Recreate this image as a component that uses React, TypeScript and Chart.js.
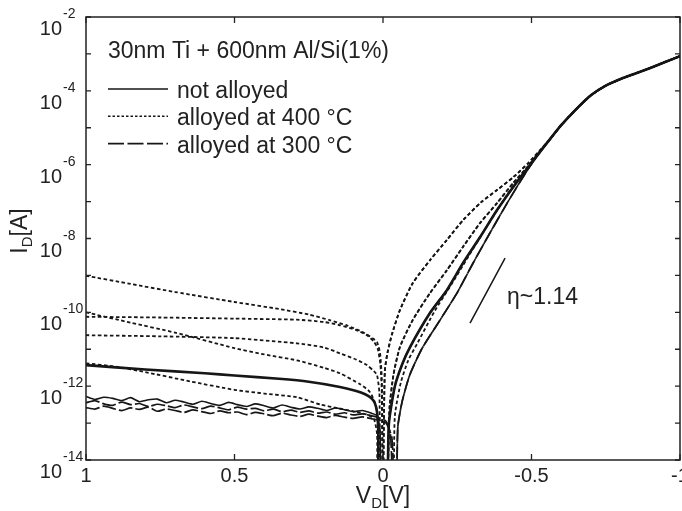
import React, { useEffect, useRef } from "react";
import { Chart, registerables } from "chart.js";

Chart.register(...registerables);

// ---------- axis ticks / labels ----------
const xTickValues = [1, 0.5, 0, -0.5, -1];
const xTickLabels = ["1", "0.5", "0", "-0.5", "-1"];
const yLabelExponents = [-2, -4, -6, -8, -10, -12, -14];
const yTickExponents = [-2, -3, -4, -5, -6, -7, -8, -9, -10, -11, -12, -13, -14];

const legendTitle = "30nm Ti + 600nm Al/Si(1%)";
const legendLabels = ["not alloyed", "alloyed at 400 °C", "alloyed at 300 °C"];
const etaLabel = "η~1.14";
const etaLabelV = -0.4175;
const etaLabelLog = -9.78;

// ---------- data: V_D [V] and log10(|I_D| / A) ----------
// reverse branches (V_D > 0)
const vRevA = [1.0, 0.85, 0.7, 0.5, 0.35, 0.25, 0.18, 0.12, 0.067, 0.035, 0.02, 0.01, 0.004, 0.0];
const logRevA = [-9.01, -9.23, -9.45, -9.72, -9.91, -10.06, -10.21, -10.36, -10.54, -10.7, -10.81, -11.1, -11.8, -15];

const vRevB = [1.0, 0.85, 0.7, 0.5, 0.4, 0.29, 0.2, 0.145, 0.077, 0.045, 0.025, 0.015, 0.011];
const logRevB = [-10.0, -10.28, -10.55, -10.97, -11.14, -11.3, -11.5, -11.65, -11.95, -12.15, -12.5, -13.2, -15];

const vRevC = [1.0, 0.75, 0.5, 0.29, 0.2, 0.145, 0.09, 0.054, 0.03, 0.018, 0.009, 0.004, 0.002];
const logRevC = [-10.12, -10.14, -10.17, -10.2, -10.26, -10.35, -10.48, -10.62, -10.8, -10.98, -11.4, -12.2, -15];

const vRevD = [1.0, 0.75, 0.5, 0.29, 0.2, 0.145, 0.09, 0.054, 0.03, 0.02, 0.012, 0.008];
const logRevD = [-10.62, -10.65, -10.7, -10.84, -10.95, -11.11, -11.28, -11.43, -11.6, -11.7, -12.2, -15];

const vRevE = [1.0, 0.9, 0.8, 0.65, 0.5, 0.4, 0.29, 0.21, 0.15, 0.1, 0.05, 0.03, 0.02, 0.015];
const logRevE = [-11.38, -11.47, -11.62, -11.87, -12.1, -12.2, -12.3, -12.5, -12.6, -12.68, -12.78, -12.9, -13.3, -15];

const vRevS = [1.0, 0.8, 0.6, 0.5, 0.35, 0.25, 0.145, 0.09, 0.06, 0.04, 0.028, 0.02, 0.016, 0.013];
const logRevS = [-11.43, -11.55, -11.65, -11.71, -11.8, -11.88, -12.02, -12.13, -12.22, -12.32, -12.45, -12.7, -13.2, -15];

// noisy low-leakage reverse branches
const vNoise = [1.0, 0.97, 0.94, 0.91, 0.88, 0.85, 0.82, 0.79, 0.76, 0.73, 0.7, 0.67, 0.64, 0.61, 0.58, 0.55, 0.52,
  0.49, 0.46, 0.43, 0.4, 0.37, 0.34, 0.31, 0.28, 0.25, 0.22, 0.19, 0.16, 0.13, 0.1, 0.07, 0.04];
const logNoise1 = [-12.28, -12.36, -12.3, -12.33, -12.39, -12.31, -12.42, -12.37, -12.35, -12.45, -12.38, -12.43,
  -12.49, -12.41, -12.47, -12.52, -12.44, -12.5, -12.55, -12.48, -12.53, -12.59, -12.51, -12.57, -12.62, -12.56,
  -12.6, -12.66, -12.59, -12.64, -12.69, -12.66, -12.73];
const logNoise2 = [-12.45, -12.39, -12.48, -12.52, -12.43, -12.5, -12.47, -12.55, -12.49, -12.53, -12.58, -12.51,
  -12.56, -12.61, -12.54, -12.59, -12.64, -12.57, -12.62, -12.6, -12.67, -12.62, -12.69, -12.65, -12.71, -12.67,
  -12.73, -12.7, -12.76, -12.72, -12.78, -12.75, -12.8];
const logNoise3 = [-12.58, -12.62, -12.54, -12.6, -12.66, -12.59, -12.63, -12.57, -12.68, -12.62, -12.66, -12.71,
  -12.64, -12.69, -12.74, -12.67, -12.72, -12.7, -12.77, -12.71, -12.75, -12.8, -12.73, -12.78, -12.82, -12.76,
  -12.81, -12.85, -12.79, -12.84, -12.87, -12.83, -12.88];
const vTail1 = [0.02, 0.01, 0.006];
const logTail1 = [-12.8, -13.2, -15];
const vTail2 = [0.015, -0.01, -0.025, -0.035];
const logTail2 = [-12.85, -12.95, -13.3, -15];
const vTail3 = [0.015, -0.01, -0.03, -0.038];
const logTail3 = [-12.92, -13.0, -13.4, -15];

// forward branches (V_D < 0)
const vFwd400a = [0.0, -0.006, -0.015, -0.03, -0.057, -0.1, -0.16, -0.215, -0.27, -0.33, -0.385, -0.44, -0.49, -0.53];
const logFwd400a = [-15, -11.6, -11.1, -10.6, -9.94, -9.21, -8.57, -8.04, -7.5, -7.02, -6.68, -6.33, -5.95, -5.6];

const vFwd400b = [-0.012, -0.022, -0.035, -0.057, -0.1, -0.158, -0.215, -0.269, -0.327, -0.384, -0.438, -0.49, -0.53];
const logFwd400b = [-15, -12.6, -11.7, -10.94, -10.21, -9.48, -8.86, -8.23, -7.58, -7.04, -6.5, -6.03, -5.62];

const vFwd400c = [-0.03, -0.04, -0.06, -0.085, -0.115, -0.175, -0.23, -0.285, -0.34, -0.395, -0.445, -0.49, -0.53];
const logFwd400c = [-15, -12.8, -11.9, -11.3, -10.85, -9.95, -9.25, -8.52, -7.8, -7.1, -6.5, -6.08, -5.65];

const vFwdNa = [-0.012, -0.02, -0.04, -0.065, -0.091, -0.158, -0.215, -0.269, -0.327, -0.384, -0.438, -0.49, -0.53];
const logFwdNa = [-15, -13.0, -12.0, -11.4, -10.94, -10.02, -9.4, -8.67, -7.96, -7.23, -6.61, -6.06, -5.64];

const vFwd300 = [-0.045, -0.05, -0.065, -0.09, -0.13, -0.192, -0.249, -0.303, -0.36, -0.418, -0.471, -0.52];
const logFwd300 = [-15, -13.1, -12.4, -11.7, -11.0, -10.21, -9.48, -8.67, -7.85, -7.04, -6.34, -5.74];

// common high-injection part
const vHigh = [-0.565, -0.6, -0.65, -0.7, -0.75, -0.8, -0.85, -0.9, -0.95, -1.0];
const logHigh = [-5.28, -4.93, -4.5, -4.12, -3.86, -3.68, -3.53, -3.38, -3.22, -3.06];

// ideality slope guide
const vEta = [-0.293, -0.411];
const logEta = [-10.29, -8.53];

// ---------- helpers ----------
type Part = [number[], number[]];
function buildPoints(parts: Part[]) {
  const out: { x: number; y: number }[] = [];
  for (const [vs, ls] of parts) vs.forEach((v, i) => out.push({ x: v, y: Math.pow(10, ls[i]) }));
  return out;
}

const FONT = '"Liberation Sans", Arial, Helvetica, sans-serif';
const INK = "#161616";
const DOT = [3.5, 2.5];
const LONG = [14, 3];

export default function App() {
  const ref = useRef<HTMLCanvasElement>(null);

  useEffect(() => {
    document.body.style.margin = "0";
    const canvas = ref.current;
    if (!canvas) return;

    const mk = (label: string, parts: Part[], dash: number[], width: number) => ({
      label,
      data: buildPoints(parts),
      showLine: true,
      borderColor: INK,
      backgroundColor: INK,
      borderWidth: width,
      borderDash: dash,
      pointRadius: 0,
      pointHoverRadius: 0,
      tension: 0.2,
      fill: false,
      clip: 0,
    });

    const H: Part = [vHigh, logHigh];
    const datasets = [
      mk(legendLabels[2], [[vNoise, logNoise2], [vTail2, logTail2], [vFwd300, logFwd300], H], LONG, 1.7),
      mk(legendLabels[2], [[vNoise, logNoise3], [vTail3, logTail3], [vFwd300, logFwd300], H], LONG, 1.7),
      mk(legendLabels[0], [[vNoise, logNoise1], [vTail1, logTail1], [vFwdNa, logFwdNa], H], [], 1.6),
      mk(legendLabels[0], [[vRevS, logRevS], [vFwdNa, logFwdNa], H], [], 2.6),
      mk(legendLabels[1], [[vRevA, logRevA], [vFwd400a, logFwd400a], H], DOT, 1.8),
      mk(legendLabels[1], [[vRevC, logRevC], [vFwd400a, logFwd400a], H], DOT, 1.8),
      mk(legendLabels[1], [[vRevB, logRevB], [vFwd400b, logFwd400b], H], DOT, 1.8),
      mk(legendLabels[1], [[vRevD, logRevD], [vFwd400b, logFwd400b], H], DOT, 1.8),
      mk(legendLabels[1], [[vRevE, logRevE], [vFwd400c, logFwd400c], H], DOT, 1.8),
      mk("eta", [[vEta, logEta]], [], 1.5),
    ];

    const axesPlugin = {
      id: "customAxes",
      afterDraw(chart: any) {
        const { ctx, chartArea: a, scales } = chart;
        const xs = scales.x;
        const ys = scales.y;
        ctx.save();
        ctx.strokeStyle = "#222";
        ctx.fillStyle = "#222";
        ctx.lineWidth = 1.5;
        ctx.setLineDash([]);
        ctx.strokeRect(a.left, a.top, a.right - a.left, a.bottom - a.top);

        // inward ticks
        ctx.lineWidth = 1.3;
        ctx.beginPath();
        for (const e of yTickExponents) {
          const y = ys.getPixelForValue(Math.pow(10, e));
          ctx.moveTo(a.left, y);
          ctx.lineTo(a.left + 5, y);
          ctx.moveTo(a.right, y);
          ctx.lineTo(a.right - 5, y);
        }
        for (const v of xTickValues) {
          const x = xs.getPixelForValue(v);
          ctx.moveTo(x, a.bottom);
          ctx.lineTo(x, a.bottom - 6);
          ctx.moveTo(x, a.top);
          ctx.lineTo(x, a.top + 6);
        }
        ctx.stroke();

        // y tick labels 10^e
        ctx.textBaseline = "alphabetic";
        for (const e of yLabelExponents) {
          const y = ys.getPixelForValue(Math.pow(10, e));
          ctx.font = `20px ${FONT}`;
          ctx.textAlign = "right";
          ctx.fillText("10", a.left - 24, y + 18);
          ctx.font = `14px ${FONT}`;
          ctx.textAlign = "left";
          ctx.fillText(String(e), a.left - 23, y + 1);
        }

        // x tick labels
        ctx.font = `20px ${FONT}`;
        ctx.textAlign = "center";
        xTickValues.forEach((v, i) => {
          ctx.fillText(xTickLabels[i], xs.getPixelForValue(v), a.bottom + 22);
        });

        // axis titles with subscripts
        const drawSubTitle = (main: string, sub: string, rest: string, cx: number, base: number) => {
          ctx.font = `23px ${FONT}`;
          const w1 = ctx.measureText(main).width;
          const w3 = ctx.measureText(rest).width;
          ctx.font = `15px ${FONT}`;
          const w2 = ctx.measureText(sub).width;
          let x = cx - (w1 + w2 + w3) / 2;
          ctx.textAlign = "left";
          ctx.font = `23px ${FONT}`;
          ctx.fillText(main, x, base);
          x += w1;
          ctx.font = `15px ${FONT}`;
          ctx.fillText(sub, x, base + 5);
          x += w2;
          ctx.font = `23px ${FONT}`;
          ctx.fillText(rest, x, base);
        };
        drawSubTitle("V", "D", "[V]", (a.left + a.right) / 2, a.bottom + 43);

        ctx.save();
        ctx.translate(27, 231);
        ctx.rotate(-Math.PI / 2);
        drawSubTitle("I", "D", "[A]", 0, 0);
        ctx.restore();

        // legend
        const lx = a.left + 22;
        ctx.font = `23px ${FONT}`;
        ctx.textAlign = "left";
        ctx.fillText(legendTitle, lx, a.top + 41);
        const rows = [
          { dash: [] as number[], w: 1.6 },
          { dash: [2.5, 2], w: 1.5 },
          { dash: [16, 3.5], w: 1.6 },
        ];
        rows.forEach((r, i) => {
          const ly = a.top + 72 + i * 27.3;
          ctx.strokeStyle = INK;
          ctx.lineWidth = r.w;
          ctx.setLineDash(r.dash);
          ctx.beginPath();
          ctx.moveTo(lx, ly);
          ctx.lineTo(lx + 60, ly);
          ctx.stroke();
          ctx.setLineDash([]);
          ctx.fillText(legendLabels[i], lx + 69, ly + 9);
        });

        // eta annotation
        ctx.fillText(etaLabel, xs.getPixelForValue(etaLabelV), ys.getPixelForValue(Math.pow(10, etaLabelLog)));
        ctx.restore();
      },
    };

    const chart = new Chart(canvas, {
      type: "scatter",
      data: { datasets: datasets as any },
      options: {
        animation: false,
        responsive: false,
        events: [],
        layout: { padding: { left: 86, right: 2, top: 17, bottom: 51 } },
        plugins: { legend: { display: false }, tooltip: { enabled: false } },
        scales: {
          x: { type: "linear", min: -1, max: 1, reverse: true, display: false },
          y: { type: "logarithmic", min: 1e-14, max: 1e-2, display: false },
        },
      } as any,
      plugins: [axesPlugin],
    });
    return () => chart.destroy();
  }, []);

  return (
    <div style={{ position: "absolute", left: 0, top: 0, width: 682, height: 511, background: "#fff" }}>
      <canvas ref={ref} width={682} height={511} style={{ display: "block", width: 682, height: 511 }} />
    </div>
  );
}
